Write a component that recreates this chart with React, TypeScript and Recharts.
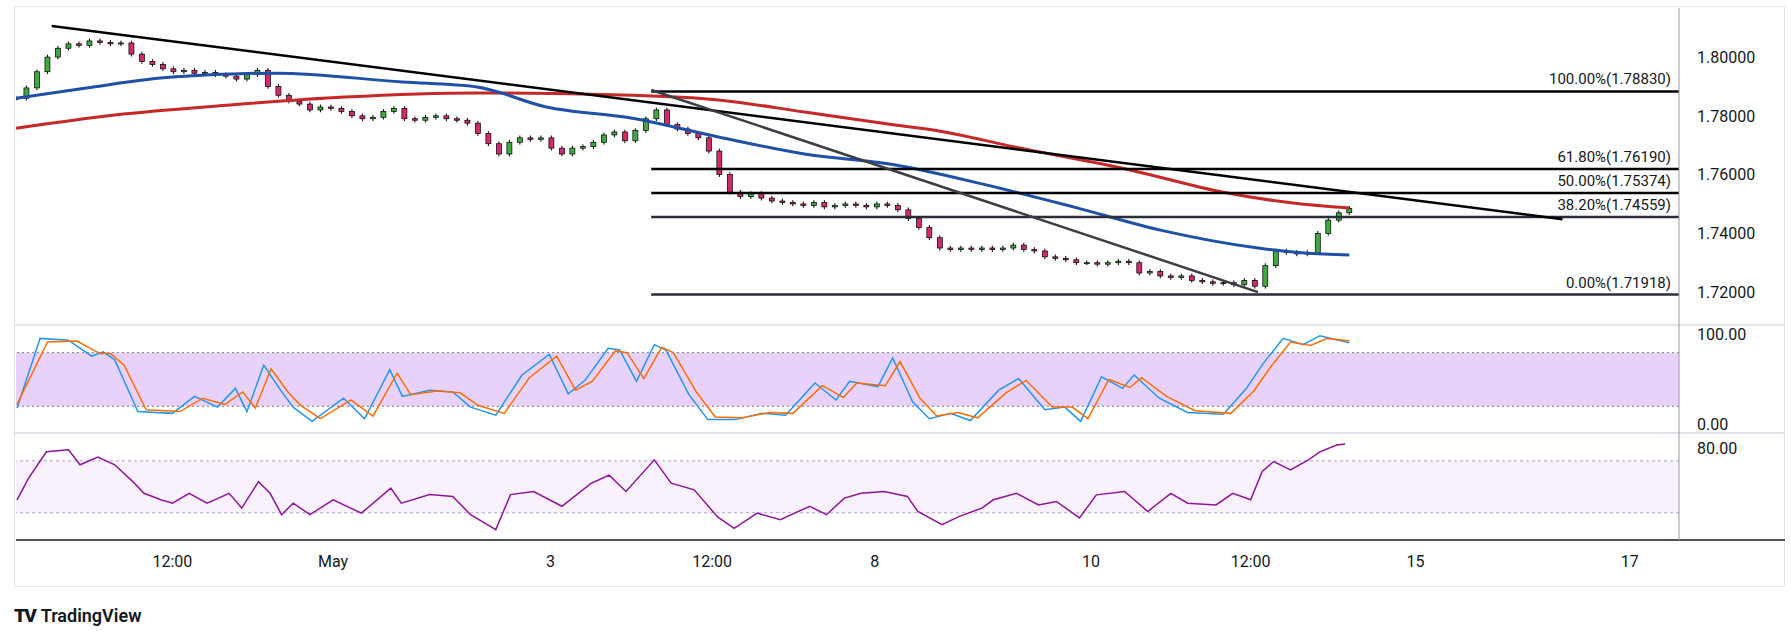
import React from "react";
import { ComposedChart, Bar, Line, XAxis, YAxis, ReferenceLine, ReferenceArea } from "recharts";

const closes = [1.786,1.7895,1.795,1.8,1.803,1.8045,1.804,1.8055,1.805,1.8045,1.8048,1.801,1.7985,1.7975,1.796,1.795,1.7955,1.7945,1.7948,1.794,1.7935,1.7925,1.794,1.7955,1.79,1.787,1.785,1.784,1.782,1.783,1.7825,1.7815,1.78,1.779,1.7795,1.7815,1.7825,1.779,1.7785,1.7795,1.78,1.779,1.7785,1.7775,1.774,1.7705,1.767,1.771,1.7725,1.772,1.7725,1.769,1.767,1.769,1.7695,1.771,1.7735,1.7745,1.7715,1.775,1.779,1.782,1.777,1.7755,1.774,1.7725,1.768,1.76,1.754,1.7525,1.7535,1.752,1.751,1.7505,1.75,1.7495,1.7505,1.749,1.7495,1.75,1.7495,1.749,1.75,1.7495,1.748,1.745,1.742,1.7385,1.735,1.7345,1.735,1.7345,1.735,1.7345,1.735,1.736,1.7345,1.734,1.732,1.7315,1.731,1.73,1.73,1.7295,1.73,1.7305,1.73,1.7265,1.727,1.7255,1.725,1.7255,1.724,1.7235,1.723,1.7232,1.7225,1.724,1.722,1.729,1.734,1.7335,1.733,1.7335,1.74,1.7445,1.747,1.7485];
const wick = 0.0008;

const blueMA: [number, number][] = [[0,1.786],[6.7,1.7895],[14.9,1.7932],[24.8,1.7945],[36.8,1.7915],[43.9,1.7898],[50.5,1.783],[58.7,1.7792],[66.9,1.7728],[75.1,1.767],[83.9,1.7632],[92.5,1.7564],[100.7,1.749],[109,1.7411],[118.3,1.735],[122.7,1.7333],[127,1.7326]];
const redMA: [number, number][] = [[0,1.7758],[9.4,1.7803],[20.4,1.7837],[31.3,1.7864],[43.9,1.7878],[58.7,1.787],[66.9,1.7854],[75.1,1.7813],[83.9,1.7768],[87.5,1.7751],[95.1,1.7694],[106.2,1.7615],[115,1.754],[121.6,1.7503],[127,1.7486]];

const fibLevels = [1.7883, 1.7619, 1.75374, 1.74559, 1.71918];
const fibLabels = ["100.00%(1.78830)", "61.80%(1.76190)", "50.00%(1.75374)", "38.20%(1.74559)", "0.00%(1.71918)"];
const fibColors = ["#000000", "#000000", "#000000", "#2a2e39", "#2a2e39"];
const fibStart = 60.5;
const xMax = 158.4;

const trend1 = [[3.4, 1.8106], [147.3, 1.7448]];
const trend2 = [[60.5, 1.7888], [118.3, 1.72]];

const stochK: [number, number][] = [[0.1,18],[2.3,96],[5,94],[7.2,76],[8.3,81],[9.4,72],[11.6,14],[14.9,12],[17,31],[19.2,19],[20.9,40],[22,14],[23.6,66],[25.2,38],[26.4,19],[28.2,3],[31.2,29],[33.2,6],[35.6,61],[36.8,31],[39.4,38],[41.6,36],[43.3,19],[45.7,10],[48.2,55],[50.8,78],[52.6,34],[54.2,49],[56.4,85],[57.5,83],[59.1,48],[60.8,89],[61.9,83],[64.1,33],[65.9,5],[68.5,5],[71.1,12],[73.3,10],[76.1,46],[78.1,27],[79.4,48],[82.1,42],[83.5,74],[85.4,25],[87,6],[89,12],[90.9,4],[93.6,38],[95.5,51],[98,16],[99.9,19],[101.4,3],[103.4,53],[105.4,40],[106.5,55],[108.9,29],[111.6,13],[115,11],[117.2,40],[118.8,68],[120.7,96],[122.6,89],[124.2,99],[127,91]];
const stochD: [number, number][] = [[0.1,22],[3,92],[5.8,93],[8,79],[9,79],[10.3,66],[12.4,16],[15.6,14],[17.8,29],[19.9,22],[21.6,36],[22.8,18],[24.3,62],[25.9,36],[27.1,21],[29,6],[31.9,27],[34,9],[36.3,57],[37.6,33],[40.1,37],[42.3,35],[44,21],[46.5,12],[48.9,52],[51.5,76],[53.3,38],[54.9,48],[57.1,82],[58.2,80],[59.8,51],[61.5,86],[62.6,80],[64.8,36],[66.6,8],[69.2,7],[71.8,13],[74,12],[76.8,43],[78.8,30],[80.1,46],[82.8,43],[84.2,70],[86.1,29],[87.7,9],[89.7,13],[91.6,7],[94.3,35],[96.2,49],[98.7,19],[100.6,19],[102.1,6],[104.1,50],[106.1,41],[107.2,52],[109.6,31],[112.3,15],[115.7,12],[117.9,37],[119.5,64],[121.4,92],[123.3,88],[124.9,96],[127,93]];

const rsi: [number, number][] = [[0.1,40],[1.2,56.7],[2.9,77],[5,78.5],[6.1,67],[7.8,73],[9.4,67],[11,55],[12.2,45],[13.8,40],[14.9,37.4],[16.5,45],[18.2,37.4],[20.3,45],[21.5,33.6],[23.1,54],[24.2,45],[25.3,28.5],[26.4,37.4],[28,28.5],[30.2,40],[32.9,29.7],[35.7,49],[36.7,37.4],[39.4,44],[41.6,42.6],[43.3,28.5],[45.7,17],[47.1,44],[49.3,46.4],[52,35],[54.8,52.8],[56.5,59],[58.1,46.4],[60.8,70.8],[62.4,52.8],[64.6,47.7],[66.8,27],[68.4,18],[70.6,29.7],[72.8,24.6],[75.6,35],[77.2,28.5],[78.9,41.3],[80.5,45],[82.7,46.4],[84.9,42.6],[85.9,31],[88.2,20.8],[89.8,27],[92,33.6],[93.1,40],[95.3,45],[97.4,36],[99.1,38.7],[101.3,26],[102.9,43.8],[105.6,46.4],[107.8,31],[110,45],[111.6,37.4],[114.3,36],[115.9,45],[117.6,40],[118.7,61.8],[119.8,69.5],[121.4,63],[123.1,70.8],[124.2,77],[125.8,82.3],[126.6,83]];

const tickIdx = [14.9, 30.2, 50.9, 66.3, 81.8, 102.4, 117.6, 133.3, 153.7];
const tickLabels = ["12:00", "May", "3", "12:00", "8", "10", "12:00", "15", "17"];
const priceTicks = [1.72, 1.74, 1.76, 1.78, 1.8];

const candles = closes.map((c, i) => {
  const o = i === 0 ? c : closes[i - 1];
  const hi = Math.max(o, c) + wick;
  const lo = Math.min(o, c) - wick;
  return { x: i, o, c, hi, lo, range: [lo, hi] };
});

const toObj = (a: [number, number][]) => a.map(([x, v]) => ({ x, v }));

const FONT = "Roboto, 'Noto Sans', sans-serif";
const W = 1785;
const M = { top: 0, bottom: 0, left: 16, right: 0 };
const tickStyle = { fill: "#131722", fontSize: 16, fontFamily: FONT };
const BODY = 5;

const Candle = (p: any) => {
  const { x, y, width, height, payload } = p;
  const { o, c, hi, lo } = payload;
  const span = hi - lo || 1;
  const py = (v: number) => y + ((hi - v) / span) * height;
  const cx = x + width / 2;
  const top = py(Math.max(o, c));
  const bot = py(Math.min(o, c));
  const up = c >= o;
  return (
    <g>
      <line x1={cx} x2={cx} y1={y} y2={y + height} stroke="#000" strokeWidth={1} />
      <rect x={cx - BODY / 2} y={top} width={BODY} height={Math.max(1, bot - top)} fill={up ? "#3fa83f" : "#d22a6e"} stroke="#000" strokeWidth={0.7} />
    </g>
  );
};

const fibLabel = (text: string) => (props: any) => {
  const vb = props.viewBox || {};
  const right = vb.x2 !== undefined ? Math.max(vb.x1, vb.x2) : (vb.x || 0) + (vb.width || 0);
  const yy = vb.y1 !== undefined ? vb.y1 : vb.y;
  return (
    <text x={right - 8} y={yy - 7} textAnchor="end" fill="#131722" fontSize={15} fontFamily={FONT}>{text}</text>
  );
};

export default function App() {
  return (
    <div style={{ position: "absolute", left: 0, top: 0, width: 1791, height: 641, background: "#fff", fontFamily: FONT }}>
      <div style={{ position: "absolute", left: 14, top: 6, width: 1771, height: 581, border: "1px solid #e0e3eb", boxSizing: "border-box" }} />
      <div style={{ position: "absolute", left: 14, top: 324, width: 1771, height: 2, background: "#e0e3eb" }} />
      <div style={{ position: "absolute", left: 14, top: 432, width: 1771, height: 2, background: "#e0e3eb" }} />
      <div style={{ position: "absolute", left: 1679, top: 539, width: 106, height: 2, background: "#50535e" }} />

      <div style={{ position: "absolute", left: 0, top: 8 }}>
        <ComposedChart width={W} height={317} data={candles} margin={M}>
          <XAxis dataKey="x" type="number" domain={[0, xMax]} hide allowDataOverflow />
          <YAxis orientation="right" domain={[1.7088, 1.8167]} ticks={priceTicks} width={106} tickFormatter={(v: number) => v.toFixed(5)} tick={tickStyle} tickLine={false} tickSize={0} tickMargin={18} axisLine={{ stroke: "#9598a1" }} allowDataOverflow />
          <Bar dataKey="range" barSize={4} shape={Candle} isAnimationActive={false} />
          <Line data={toObj(redMA)} dataKey="v" type="monotone" stroke="#c62828" strokeWidth={3} dot={false} isAnimationActive={false} />
          <Line data={toObj(blueMA)} dataKey="v" type="monotone" stroke="#1e50a8" strokeWidth={3} dot={false} isAnimationActive={false} />
          {fibLevels.map((lv, k) => (
            <ReferenceLine key={k} segment={[{ x: fibStart, y: lv }, { x: xMax, y: lv }]} stroke={fibColors[k]} strokeWidth={2.5} label={fibLabel(fibLabels[k])} />
          ))}
          <ReferenceLine segment={[{ x: trend1[0][0], y: trend1[0][1] }, { x: trend1[1][0], y: trend1[1][1] }]} stroke="#000" strokeWidth={2.5} />
          <ReferenceLine segment={[{ x: trend2[0][0], y: trend2[0][1] }, { x: trend2[1][0], y: trend2[1][1] }]} stroke="#3a3d45" strokeWidth={2.5} />
        </ComposedChart>
      </div>

      <div style={{ position: "absolute", left: 0, top: 325 }}>
        <ComposedChart width={W} height={108} margin={M}>
          <XAxis dataKey="x" type="number" domain={[0, xMax]} hide allowDataOverflow />
          <YAxis orientation="right" domain={[-10, 111]} ticks={[100, 0]} width={106} tickFormatter={(v: number) => v.toFixed(2)} tick={tickStyle} tickLine={false} tickSize={0} tickMargin={18} axisLine={{ stroke: "#9598a1" }} allowDataOverflow />
          <ReferenceArea y1={20} y2={80} fill="#e6cdfc" fillOpacity={0.9} stroke="none" />
          <ReferenceLine y={80} stroke="#787b86" strokeDasharray="2 3" />
          <ReferenceLine y={20} stroke="#787b86" strokeDasharray="2 3" />
          <Line data={toObj(stochK)} dataKey="v" type="linear" stroke="#2196f3" strokeWidth={1.5} dot={false} isAnimationActive={false} />
          <Line data={toObj(stochD)} dataKey="v" type="linear" stroke="#ff6d00" strokeWidth={1.5} dot={false} isAnimationActive={false} />
        </ComposedChart>
      </div>

      <div style={{ position: "absolute", left: 0, top: 433 }}>
        <ComposedChart width={W} height={154} margin={M}>
          <XAxis dataKey="x" type="number" domain={[0, xMax]} ticks={tickIdx} tickFormatter={(v: number) => tickLabels[tickIdx.indexOf(v)] ?? ""} tick={tickStyle} tickLine={false} tickSize={0} tickMargin={16} height={47} axisLine={{ stroke: "#50535e", strokeWidth: 2 }} allowDataOverflow interval={0} />
          <YAxis orientation="right" domain={[9, 91.5]} ticks={[80]} width={106} tickFormatter={(v: number) => v.toFixed(2)} tick={tickStyle} tickLine={false} tickSize={0} tickMargin={18} axisLine={{ stroke: "#9598a1" }} allowDataOverflow />
          <ReferenceArea y1={30} y2={70} fill="#f3e5fd" stroke="none" />
          <ReferenceLine y={70} stroke="#b39ddb" strokeDasharray="3 3" />
          <ReferenceLine y={30} stroke="#b39ddb" strokeDasharray="3 3" />
          <Line data={toObj(rsi)} dataKey="v" type="linear" stroke="#8e1599" strokeWidth={1.5} dot={false} isAnimationActive={false} />
        </ComposedChart>
      </div>

      <div style={{ position: "absolute", left: 14, top: 604, fontSize: 18, color: "#131722", display: "flex", alignItems: "center", gap: 6 }}>
        <span style={{ fontWeight: 900, fontSize: 19, letterSpacing: -2 }}>TV</span>
        <span style={{ fontWeight: 600 }}>TradingView</span>
      </div>
    </div>
  );
}
